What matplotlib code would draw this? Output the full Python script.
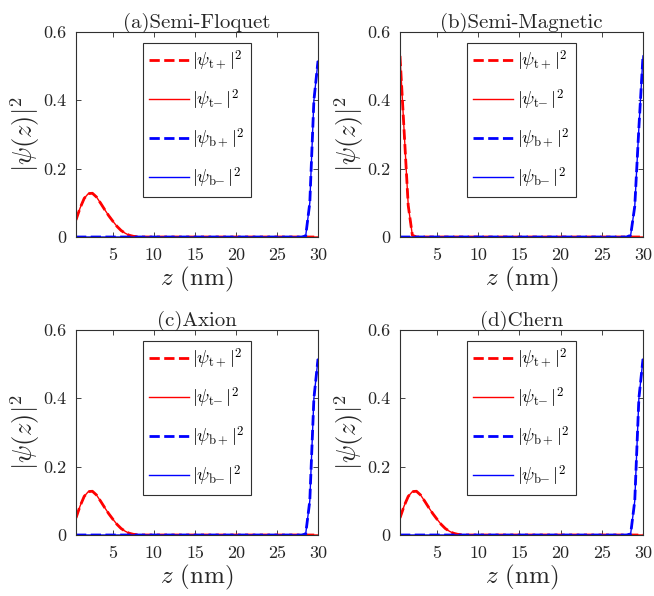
import matplotlib
matplotlib.use("Agg")
import matplotlib.pyplot as plt

plt.rcParams['mathtext.fontset'] = 'cm'
plt.rcParams['font.family'] = ['cmr10', 'DejaVu Serif']
plt.rcParams['axes.formatter.use_mathtext'] = True

titles = ['(a)Semi-Floquet', '(b)Semi-Magnetic', '(c)Axion', '(d)Chern']

# top-surface density (decaying from z=0), sampled points
z_top_a = [0.5, 1.0, 1.5, 2.0, 2.5, 3.0, 3.5, 4.0, 4.5, 5.0, 5.5, 6.0, 6.5, 7.0, 7.5, 8.0, 8.5, 30.0]
p_top_a = [0.050, 0.085, 0.113, 0.127, 0.128, 0.117, 0.099, 0.080, 0.062, 0.046, 0.031, 0.019, 0.011, 0.005, 0.002, 0.0006, 0.0, 0.0]
z_top_b = [0.5, 1.0, 1.5, 2.0, 2.5, 30.0]
p_top_b = [0.530, 0.310, 0.092, 0.005, 0.0, 0.0]

# bottom-surface density (rising toward z=30)
z_bot_a = [0.5, 28.0, 28.5, 29.0, 29.5, 30.0]
p_bot_a = [0.0, 0.0, 0.003, 0.100, 0.400, 0.515]
z_bot_b = [0.5, 28.0, 28.5, 29.0, 29.5, 30.0]
p_bot_b = [0.0, 0.0, 0.005, 0.090, 0.320, 0.530]

top_z = [z_top_a, z_top_b, z_top_a, z_top_a]
top_p = [p_top_a, p_top_b, p_top_a, p_top_a]
bot_z = [z_bot_a, z_bot_b, z_bot_a, z_bot_a]
bot_p = [p_bot_a, p_bot_b, p_bot_a, p_bot_a]

labels = [r'$|\psi_{\mathrm{t+}}|^2$', r'$|\psi_{\mathrm{t}\!\!-}|^2$',
          r'$|\psi_{\mathrm{b+}}|^2$', r'$|\psi_{\mathrm{b}\!\!-}|^2$']

xticks = [5, 10, 15, 20, 25, 30]
yticks = [0, 0.2, 0.4, 0.6]
yticklabels = ['0', '0.2', '0.4', '0.6']

W, H = 654, 596
fig = plt.figure(figsize=(W / 100, H / 100), dpi=100)

boxes = [(76, 32, 318, 237), (400, 32, 643, 237), (76, 330, 318, 535), (400, 330, 643, 535)]

for i, (l, t, r, b) in enumerate(boxes):
    ax = fig.add_axes([l / W, (H - b) / H, (r - l) / W, (b - t) / H])
    h1, = ax.plot(top_z[i], top_p[i], '--', color='red', lw=2.0)
    h2, = ax.plot(top_z[i], top_p[i], '-', color='red', lw=1.0)
    h3, = ax.plot(bot_z[i], bot_p[i], '--', color='blue', lw=2.0)
    h4, = ax.plot(bot_z[i], bot_p[i], '-', color='blue', lw=1.0)
    ax.set_xlim(0.5, 30)
    ax.set_ylim(0, 0.6)
    ax.set_xticks(xticks)
    ax.set_yticks(yticks)
    ax.set_xticklabels([str(v) for v in xticks])
    ax.set_yticklabels(yticklabels)
    ax.tick_params(direction='in', top=True, right=True, length=3.5, width=0.6,
                   labelsize=13, colors='#262626')
    ax.tick_params(axis='x', pad=8)
    ax.tick_params(axis='y', pad=7)
    for s in ax.spines.values():
        s.set_color('#303030')
        s.set_linewidth(0.8)
    ax.set_title(titles[i], fontsize=15, pad=3, color='#262626')
    ax.set_xlabel(r'$z$ (nm)', fontsize=18, labelpad=1, color='#262626')
    ax.set_ylabel(r'$|\psi(z)|^2$', fontsize=19, labelpad=1, color='#262626')
    leg = ax.legend([h1, h2, h3, h4], labels, loc='upper center',
                    bbox_to_anchor=(0.5, 1 - 10.5 / (b - t)), borderaxespad=0,
                    fontsize=13, handlelength=2.2, handletextpad=0.2,
                    labelspacing=0.82, borderpad=0.35, fancybox=False,
                    framealpha=1, edgecolor='#303030')
    leg.get_frame().set_linewidth(0.8)

fig.savefig('out.png', dpi=100)
